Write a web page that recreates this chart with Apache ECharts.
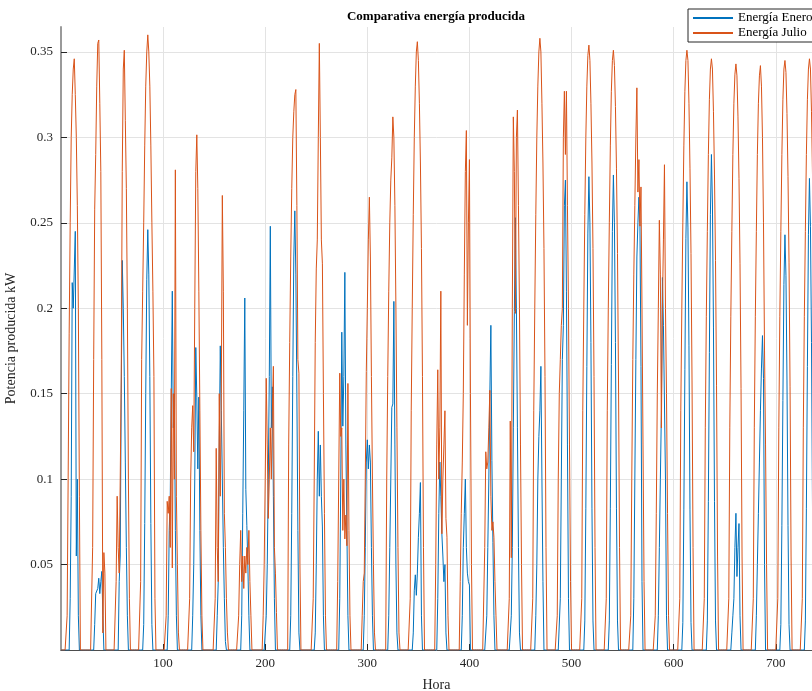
<!DOCTYPE html>
<html><head><meta charset="utf-8">
<script src="https://cdn.jsdelivr.net/npm/echarts@6/dist/echarts.min.js"></script>
<style>html,body{margin:0;padding:0;background:#fff;}#c{width:812px;height:691px;}</style>
</head><body><div id="c"></div>
<script>
// Hourly values, one array per day. Julio arrays start at hour 5, Enero arrays at hour 8; other hours are 0.
const julioStartHour = 5;
const eneroStartHour = 8;
const julio = [
 [0,0.02,0.10,0.185,0.25,0.30,0.325,0.34,0.346,0.325,0.30,0.26,0.20,0.09,0,0],
 [0,0,0.06,0.17,0.258,0.29,0.33,0.355,0.357,0.32,0.28,0.17,0.01,0.057,0.045,0],
 [0,0.04,0.09,0.06,0.045,0.10,0.16,0.28,0.34,0.351,0.31,0.27,0.20,0.10,0.03,0],
 [0,0.04,0.17,0.21,0.25,0.295,0.33,0.35,0.36,0.35,0.33,0.295,0.25,0.21,0.16,0.03],
 [0,0,0.02,0.087,0.08,0.09,0.06,0.153,0.048,0.15,0.10,0.281,0.09,0.05,0.01,0],
 [0,0.03,0.10,0.13,0.143,0.116,0.20,0.28,0.3015,0.27,0.21,0.14,0.07,0.02,0,0],
 [0,0,0.03,0.118,0.06,0.04,0.15,0.09,0.15,0.266,0.21,0.08,0.06,0.03,0.01,0],
 [0,0.02,0.05,0.07,0.04,0.055,0.036,0.055,0.045,0.06,0.05,0.07,0.04,0.02,0,0],
 [0,0.02,0.05,0.10,0.159,0.12,0.077,0.10,0.13,0.10,0.14,0.166,0.06,0.045,0.022,0],
 [0,0,0.12,0.18,0.23,0.27,0.30,0.315,0.325,0.328,0.26,0.17,0.162,0.05,0,0],
 [0,0,0.03,0.10,0.18,0.223,0.24,0.30,0.355,0.30,0.24,0.226,0.15,0.08,0.02,0],
 [0,0,0.04,0.10,0.162,0.125,0.13,0.07,0.10,0.065,0.079,0.061,0.156,0.07,0.02,0],
 [0,0,0.02,0.04,0.045,0.10,0.163,0.20,0.24,0.265,0.23,0.16,0.10,0.05,0.01,0],
 [0,0,0.10,0.16,0.21,0.25,0.275,0.288,0.312,0.30,0.26,0.20,0.13,0.06,0.01,0],
 [0,0.03,0.14,0.20,0.255,0.30,0.33,0.35,0.356,0.345,0.32,0.285,0.235,0.16,0.06,0],
 [0,0,0.05,0.12,0.164,0.10,0.13,0.21,0.068,0.10,0.12,0.14,0.077,0.066,0.02,0],
 [0,0,0.04,0.08,0.11,0.15,0.22,0.28,0.304,0.19,0.25,0.287,0.15,0.05,0,0],
 [0,0,0.06,0.116,0.106,0.11,0.13,0.152,0.09,0.07,0.075,0.066,0.04,0.02,0,0],
 [0,0,0.03,0.134,0.054,0.20,0.312,0.28,0.197,0.30,0.316,0.26,0.20,0.12,0.05,0],
 [0,0.03,0.14,0.20,0.255,0.30,0.33,0.35,0.358,0.35,0.32,0.285,0.235,0.16,0.06,0],
 [0,0.02,0.10,0.15,0.17,0.19,0.20,0.30,0.327,0.29,0.327,0.26,0.20,0.12,0.04,0],
 [0,0.03,0.14,0.20,0.255,0.30,0.33,0.348,0.354,0.345,0.32,0.285,0.235,0.16,0.06,0],
 [0,0.03,0.14,0.20,0.25,0.295,0.327,0.345,0.351,0.342,0.318,0.282,0.232,0.158,0.06,0],
 [0,0.02,0.10,0.17,0.22,0.26,0.30,0.329,0.268,0.287,0.248,0.271,0.20,0.12,0.04,0],
 [0,0.02,0.08,0.15,0.20,0.2515,0.22,0.13,0.20,0.24,0.284,0.20,0.15,0.08,0.02,0],
 [0,0.03,0.14,0.20,0.25,0.295,0.327,0.345,0.351,0.345,0.32,0.282,0.232,0.158,0.06,0],
 [0,0.03,0.13,0.195,0.245,0.29,0.322,0.34,0.346,0.34,0.315,0.278,0.228,0.155,0.055,0],
 [0,0.03,0.13,0.195,0.245,0.29,0.32,0.337,0.343,0.336,0.312,0.276,0.226,0.153,0.055,0],
 [0,0.03,0.13,0.195,0.245,0.29,0.32,0.336,0.342,0.33,0.30,0.25,0.175,0.12,0.05,0],
 [0,0.03,0.13,0.195,0.245,0.29,0.322,0.34,0.345,0.338,0.314,0.277,0.227,0.154,0.055,0],
 [0,0.03,0.13,0.195,0.245,0.29,0.322,0.34,0.346,0.34,0.315,0.278,0.228,0.155,0.055,0]
];
const enero = [
 [0,0.03,0.09,0.215,0.20,0.20,0.245,0.055,0.10,0.02,0],
 [0,0.015,0.033,0.033,0.036,0.042,0.033,0.04,0.046,0.02,0],
 [0,0.04,0.055,0.15,0.228,0.20,0.16,0.11,0.06,0.02,0],
 [0,0.015,0.074,0.15,0.217,0.246,0.22,0.16,0.074,0.015,0],
 [0,0.02,0.07,0.09,0.15,0.21,0.13,0.15,0.07,0.02,0],
 [0,0.02,0.05,0.10,0.177,0.148,0.106,0.148,0.07,0.02,0],
 [0,0.02,0.04,0.12,0.178,0.14,0.10,0.06,0.03,0.005,0],
 [0,0.02,0.08,0.14,0.206,0.094,0.073,0.05,0.02,0,0],
 [0,0.02,0.05,0.10,0.16,0.248,0.13,0.154,0.09,0.03,0],
 [0,0.02,0.08,0.16,0.23,0.257,0.22,0.15,0.07,0.01,0],
 [0,0.01,0.05,0.10,0.128,0.09,0.12,0.09,0.072,0.02,0],
 [0,0.03,0.10,0.186,0.131,0.16,0.221,0.12,0.07,0.02,0],
 [0,0.02,0.06,0.11,0.123,0.106,0.12,0.11,0.06,0.02,0],
 [0,0.02,0.06,0.10,0.142,0.144,0.204,0.12,0.05,0.01,0],
 [0,0.01,0.035,0.044,0.032,0.045,0.066,0.08,0.098,0.02,0],
 [0,0.03,0.08,0.11,0.09,0.068,0.055,0.04,0.05,0.01,0],
 [0,0.02,0.06,0.08,0.10,0.06,0.045,0.04,0.038,0,0],
 [0,0.02,0.06,0.10,0.15,0.19,0.111,0.063,0.02,0,0],
 [0,0.02,0.06,0.13,0.198,0.253,0.20,0.13,0.06,0.01,0],
 [0,0.02,0.05,0.10,0.125,0.14,0.166,0.10,0.04,0,0],
 [0,0.03,0.10,0.17,0.19,0.26,0.275,0.21,0.12,0.03,0],
 [0,0.017,0.083,0.166,0.244,0.277,0.25,0.18,0.083,0.017,0],
 [0,0.017,0.083,0.167,0.245,0.278,0.25,0.18,0.083,0.017,0],
 [0,0.03,0.10,0.17,0.23,0.25,0.265,0.248,0.166,0.04,0],
 [0,0.02,0.06,0.10,0.14,0.218,0.19,0.19,0.10,0.02,0],
 [0,0.016,0.082,0.164,0.241,0.274,0.247,0.178,0.082,0.016,0],
 [0,0.017,0.087,0.174,0.255,0.29,0.261,0.189,0.087,0.017,0],
 [0,0.01,0.02,0.03,0.06,0.08,0.043,0.06,0.074,0.02,0],
 [0,0.02,0.05,0.08,0.11,0.14,0.165,0.184,0.159,0.05,0],
 [0,0.015,0.073,0.146,0.214,0.243,0.219,0.158,0.073,0.015,0],
 [0,0.017,0.083,0.166,0.243,0.276,0.248,0.18,0.083,0.017,0]
];
const seriesNames = ['Energía Enero', 'Energía Julio'];
const xTickStep = 100;
const yTickStep = 0.05;

function hourly(days, start) {
  const out = [];
  days.forEach((vals, d) => {
    for (let h = 0; h < 24; h++) {
      const i = h - start;
      out.push([24 * d + h, (i >= 0 && i < vals.length) ? vals[i] : 0]);
    }
  });
  return out;
}

const serif = 'Liberation Serif';
const chart = echarts.init(document.getElementById('c'), null, {renderer: 'canvas'});
chart.setOption({
  animation: false,
  backgroundColor: '#fff',
  title: {
    text: 'Comparativa energía producida',
    left: 436, textAlign: 'center', top: 10, padding: 0,
    textStyle: {fontFamily: serif, fontSize: 13, fontWeight: 'bold', color: '#000'}
  },
  legend: {
    orient: 'vertical', left: 688, top: 9,
    padding: [2, 30, 2, 4], itemGap: 1,
    itemWidth: 40, itemHeight: 12,
    backgroundColor: '#fff', borderColor: '#262626', borderWidth: 1,
    itemStyle: {opacity: 0},
    textStyle: {fontFamily: serif, fontSize: 13, color: '#000', padding: [0, 0, 0, 0], lineHeight: 14},
    data: seriesNames
  },
  grid: {left: 61, top: 27, right: 0, bottom: 41, containLabel: false, outerBoundsMode: 'none'},
  xAxis: {
    type: 'value', min: 0, max: 735.5, interval: xTickStep,
    name: 'Hora', nameLocation: 'middle', nameGap: 28,
    nameTextStyle: {fontFamily: serif, fontSize: 14, color: '#262626'},
    axisLine: {show: true, onZero: false, lineStyle: {color: '#4d4d4d', width: 1}},
    axisTick: {show: true, inside: true, length: 6, lineStyle: {color: '#262626'}},
    axisLabel: {fontFamily: serif, fontSize: 13, color: '#262626', margin: 7, showMinLabel: false, showMaxLabel: false},
    splitLine: {show: true, showMinLine: false, showMaxLine: false, lineStyle: {color: '#e3e3e3', width: 1}}
  },
  yAxis: {
    type: 'value', min: 0, max: 0.3646, interval: yTickStep,
    name: 'Potencia producida kW', nameLocation: 'middle', nameGap: 43,
    nameTextStyle: {fontFamily: serif, fontSize: 14, color: '#262626'},
    axisLine: {show: true, lineStyle: {color: '#9a9a9a', width: 2}},
    axisTick: {show: true, inside: true, length: 6, lineStyle: {color: '#262626'}},
    axisLabel: {fontFamily: serif, fontSize: 13, color: '#262626', margin: 8, showMinLabel: false, showMaxLabel: false,
      formatter: v => String(Math.round(v * 100) / 100)},
    splitLine: {show: true, showMinLine: false, showMaxLine: false, lineStyle: {color: '#e3e3e3', width: 1}}
  },
  series: [
    {name: seriesNames[0], type: 'line', data: hourly(enero, eneroStartHour), symbol: 'none',
     lineStyle: {color: '#0072BD', width: 1}, itemStyle: {color: '#0072BD'}, z: 2},
    {name: seriesNames[1], type: 'line', data: hourly(julio, julioStartHour), symbol: 'none',
     lineStyle: {color: '#D95319', width: 1}, itemStyle: {color: '#D95319'}, z: 3}
  ]
});
</script>
</body></html>
